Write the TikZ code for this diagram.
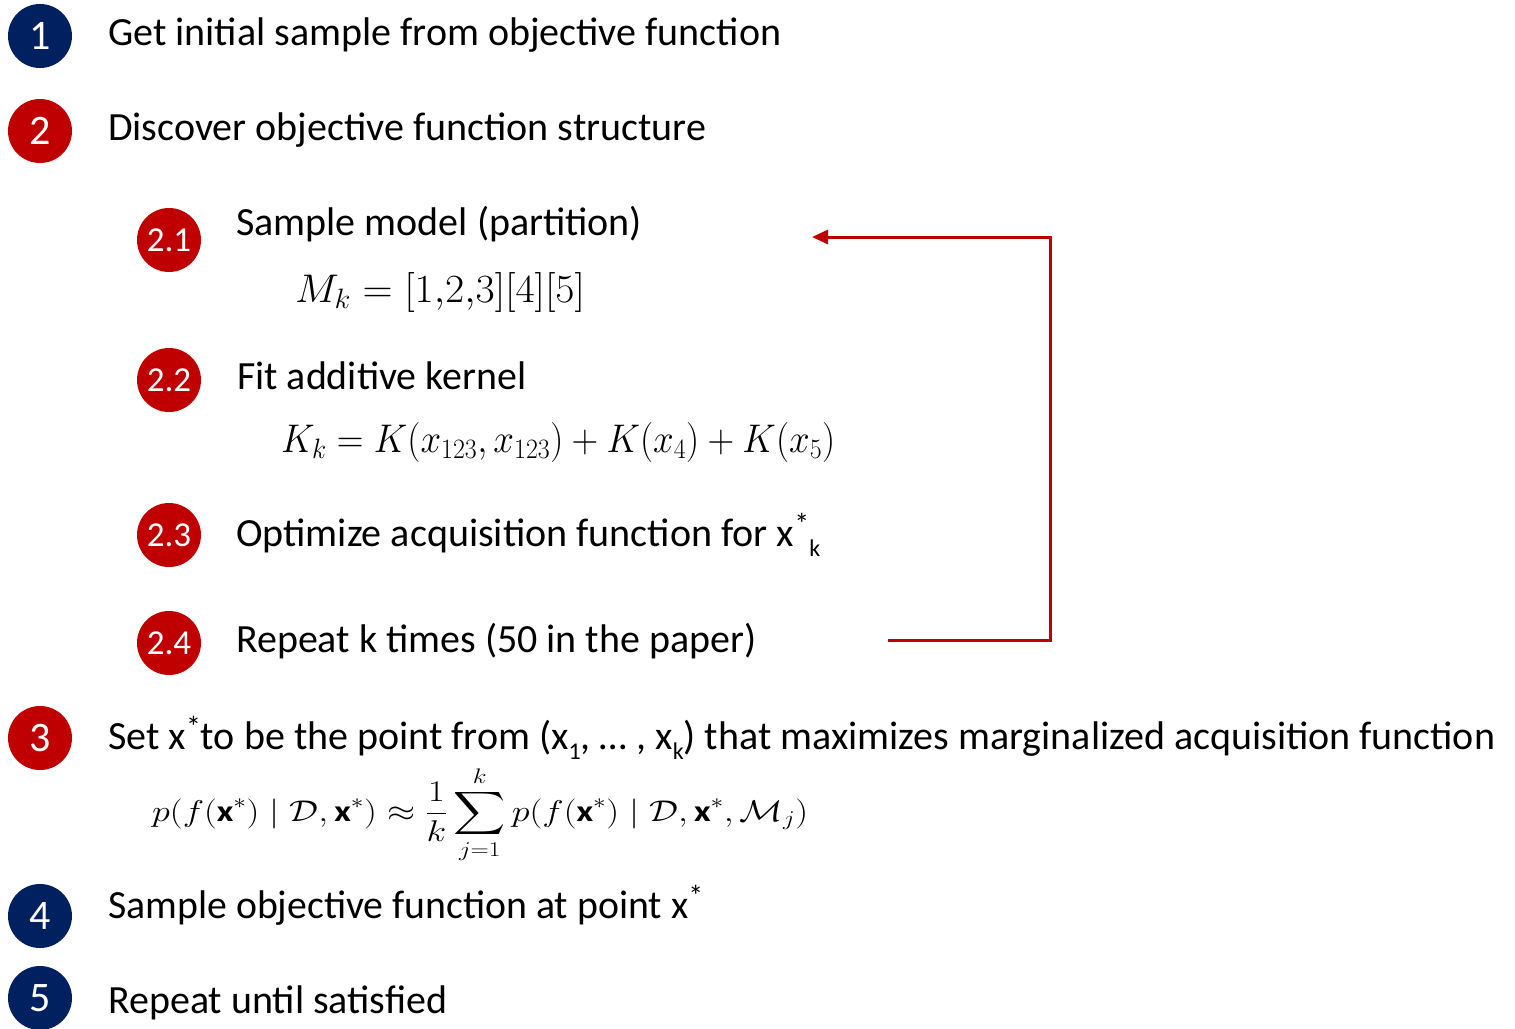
\RequirePackage{fix-cm}
\documentclass[tikz,border=0pt]{standalone}
\usepackage{fontspec}
\usepackage{amsmath,amssymb,graphicx}
\setmainfont{Carlito}
\usetikzlibrary{arrows.meta}
\definecolor{navy}{HTML}{002060}
\definecolor{dred}{HTML}{C00000}
\tikzset{
  x=1pt, y=-1pt,
  num/.style={circle, minimum size=64pt, inner sep=0pt, text=white, font=\fontsize{42}{42}\selectfont},
  subnum/.style={circle, minimum size=64pt, inner sep=0pt, fill=dred, text=white, font=\fontsize{35}{35}\selectfont},
  txt/.style={anchor=base west, inner sep=0pt, font=\fontsize{40}{48}\selectfont},
  loopline/.style={draw=dred, line width=3pt, -{Triangle[length=16pt,width=14pt]}},
}
\newcommand{\fitw}[2]{\resizebox{#1pt}{\height}{#2}}
\newcommand{\sstar}{\raisebox{0.3em}{\fontsize{30}{30}\selectfont *}}
\newcommand{\ssub}[1]{\raisebox{-0.25em}{\fontsize{24}{24}\selectfont #1}}
\begin{document}
\begin{tikzpicture}
\useasboundingbox (0,0) rectangle (1515,1028);
% numbered circles
\node[num, fill=navy] (c1) at (40,36) {1};
\node[num, fill=dred] (c2) at (40,131) {2};
\node[subnum] (c21) at (169,240) {2.1};
\node[subnum] (c22) at (169,380) {2.2};
\node[subnum] (c23) at (169,535) {2.3};
\node[subnum] (c24) at (169,643) {2.4};
\node[num, fill=dred] (c3) at (40,738) {3};
\node[num, fill=navy] (c4) at (40,916) {4};
\node[num, fill=navy] (c5) at (40,998) {5};
% texts
\node[txt] (t1) at (108,45) {\fitw{673}{Get initial sample from objective function}};
\node[txt] (t2) at (108,140) {\fitw{598}{Discover objective function structure}};
\node[txt] (t21) at (236,235) {\fitw{406}{Sample model (partition)}};
\node[txt] (m21) at (295,302) {\fitw{290}{$M_k=[1{,}2{,}3][4][5]$}};
\node[txt] (t22) at (237,389) {\fitw{289}{Fit additive kernel}};
\node[txt] (m22) at (281,452) {\fitw{554}{$K_k=K(x_{123},x_{123})+K(x_4)+K(x_5)$}};
\node[txt] (t23) at (236,546) {\fitw{584}{Optimize acquisition function for x\sstar\ssub{k}}};
\node[txt] (t24) at (236,652) {\fitw{520}{Repeat k times (50 in the paper)}};
\node[txt] (t3) at (108,749) {\fitw{1387}{Set x\sstar to be the point from (x\ssub{1}, \dots\ , x\ssub{k}) that maximizes marginalized acquisition function}};
\node[anchor=west, inner sep=0pt, font=\fontsize{30}{30}\selectfont] (m3) at (152,815) {\fitw{656}{$\displaystyle p(f(\mathbf{x}^*)\mid\mathcal{D},\mathbf{x}^*)\approx\frac{1}{k}\sum_{j=1}^{k}p(f(\mathbf{x}^*)\mid\mathcal{D},\mathbf{x}^*,\mathcal{M}_j)$}};
\node[txt] (t4) at (108,918) {\fitw{595}{Sample objective function at point x\sstar}};
\node[txt] (t5) at (108,1013) {\fitw{339}{Repeat until satisfied}};
% loop connector
\coordinate (a0) at (888,640);
\coordinate (a1) at (812,237);
\coordinate (ac) at (1050,640);
\draw[loopline] (a0) -- (ac) |- (a1);
\end{tikzpicture}
\end{document}
